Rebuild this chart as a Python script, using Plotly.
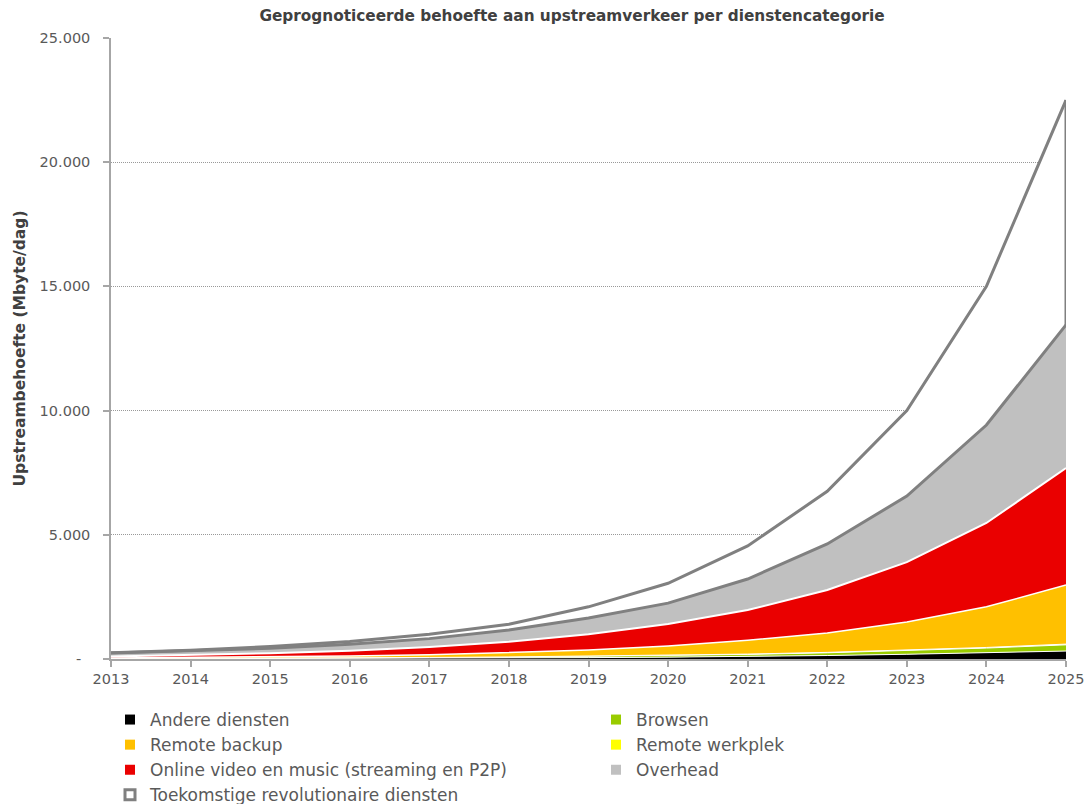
import numpy as np
import plotly.graph_objects as go

years = [2013, 2014, 2015, 2016, 2017, 2018, 2019, 2020, 2021, 2022, 2023, 2024, 2025]

andere_diensten = [9, 12, 16, 22, 30, 40, 55, 75, 100, 140, 190, 250, 320]
browsen = [11, 13, 17, 22, 28, 38, 50, 65, 85, 110, 150, 190, 250]
remote_werkplek = [2, 2, 3, 4, 5, 6, 8, 10, 13, 17, 20, 25, 30]
remote_backup = [18, 33, 44, 72, 107, 166, 247, 370, 552, 783, 1130, 1635, 2380]
online_video = [60, 100, 150, 210, 310, 440, 640, 890, 1220, 1730, 2410, 3375, 4710]
overhead = [140, 160, 200, 260, 340, 480, 650, 840, 1250, 1850, 2660, 3945, 5760]
toekomstig = [10, 30, 70, 110, 180, 230, 450, 800, 1330, 2120, 3440, 5580, 9050]

y_tickvals = [0, 5000, 10000, 15000, 20000, 25000]
y_ticktext = ["-\u00a0\u00a0", "5.000", "10.000", "15.000", "20.000", "25.000"]

GREY_LINE = "#808080"
FONT = "DejaVu Sans, Verdana, sans-serif"

# (name, values, fill colour, line colour, line width, legend rank)
series = [
    ("Andere diensten", andere_diensten, "#000000", "#ffffff", 1.0, 1),
    ("Browsen", browsen, "#99cc00", "#ffffff", 1.0, 2),
    ("Remote werkplek", remote_werkplek, "#ffff00", "#ffffff", 1.0, 4),
    ("Remote backup", remote_backup, "#ffc000", "#ffffff", 1.5, 3),
    ("Online video en music (streaming en P2P)", online_video, "#ea0000", "#ffffff", 2.0, 5),
    ("Overhead", overhead, "#c0c0c0", GREY_LINE, 3.0, 6),
    ("Toekomstige revolutionaire diensten", toekomstig, "#ffffff", GREY_LINE, 3.0, 7),
]

fig = go.Figure()
for name, vals, fillc, linec, lw, rank in series:
    fig.add_trace(go.Scatter(
        x=years, y=vals, name=name, stackgroup="one", mode="lines",
        fillcolor=fillc, line=dict(color=linec, width=lw),
        showlegend=False, hoverinfo="x+y+name",
    ))

# outline of the top area at its right and left edges (closure of the polygon)
cum = np.cumsum([np.array(s[1]) for s in series], axis=0)
for idx in (0, -1):
    fig.add_trace(go.Scatter(
        x=[years[idx], years[idx]], y=[cum[-2][idx], cum[-1][idx]],
        mode="lines", line=dict(color=GREY_LINE, width=3),
        showlegend=False, hoverinfo="skip",
    ))

# legend entries (square swatches)
for name, vals, fillc, linec, lw, rank in series:
    if name.startswith("Toekomstige"):
        marker = dict(symbol="square", size=10, color="#ffffff",
                      line=dict(color=GREY_LINE, width=3))
    else:
        marker = dict(symbol="square", size=10, color=fillc, line=dict(width=0))
    fig.add_trace(go.Scatter(
        x=[None], y=[None], mode="markers", name=name, marker=marker,
        showlegend=True, legendrank=rank, hoverinfo="skip",
    ))

fig.update_layout(
    width=1091, height=804,
    margin=dict(l=111, r=25, t=38, b=145, autoexpand=False),
    paper_bgcolor="#ffffff", plot_bgcolor="#ffffff",
    font=dict(family=FONT, color="#595959", size=14),
    title=dict(
        text="<b>Geprognoticeerde behoefte aan upstreamverkeer per dienstencategorie</b>",
        x=572 / 1091, xanchor="center", y=1 - 16 / 804, yanchor="middle",
        xref="container", yref="container",
        font=dict(family=FONT, size=15.3, color="#404040"),
    ),
    showlegend=True,
    legend=dict(
        orientation="h", xref="paper", yref="paper",
        x=-1 / 955, xanchor="left", y=-(702 - 659) / 621, yanchor="top",
        entrywidthmode="pixels", entrywidth=441,
        font=dict(family=FONT, size=17, color="#595959"),
        itemwidth=30, traceorder="normal",
        bgcolor="rgba(0,0,0,0)",
    ),
    xaxis=dict(
        range=[2013, 2025], tickmode="array", tickvals=years,
        ticktext=[str(y) for y in years],
        showgrid=False, zeroline=False,
        showline=True, linecolor="#a6a6a6", linewidth=1.5,
        ticks="outside", ticklen=6, tickcolor="#a6a6a6", tickwidth=1.5,
        tickfont=dict(family=FONT, size=14.5, color="#595959"),
    ),
    yaxis=dict(
        range=[0, 25000], tickmode="array", tickvals=y_tickvals, ticktext=y_ticktext,
        showgrid=True, gridcolor="#999999", gridwidth=1, griddash="1px,1px",
        zeroline=False,
        showline=True, linecolor="#a6a6a6", linewidth=1.5,
        ticks="outside", ticklen=6, tickcolor="#a6a6a6", tickwidth=1.5,
        ticklabelstandoff=10,
        tickfont=dict(family=FONT, size=14.5, color="#595959"),
        title=dict(text="<b>Upstreambehoefte (Mbyte/dag)</b>",
                   font=dict(family=FONT, size=15.5, color="#404040"), standoff=10),
    ),
)

fig.write_html("out.html", config={"displayModeBar": False},
               post_script="document.body.style.margin='0';")
